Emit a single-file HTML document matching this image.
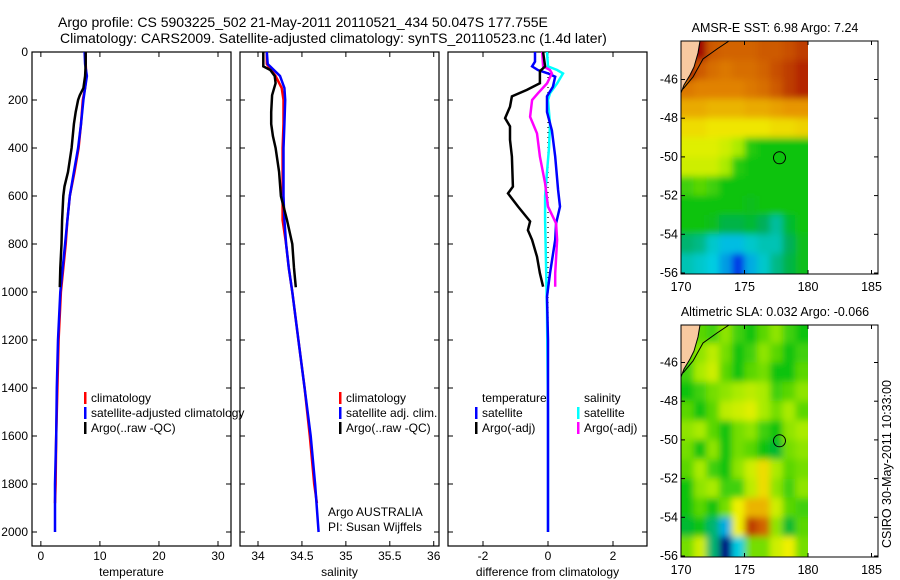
<!DOCTYPE html>
<html><head><meta charset="utf-8">
<style>
html,body{margin:0;padding:0;background:#fff;overflow:hidden;}
svg{display:block;font-family:"Liberation Sans",sans-serif;}
text{fill:#000;}
</style></head>
<body>
<svg id="fig" width="900" height="580" viewBox="0 0 900 580" xmlns="http://www.w3.org/2000/svg">
<defs><filter id="soft" x="-10%" y="-10%" width="120%" height="120%"><feGaussianBlur stdDeviation="3.5"/></filter></defs>
<g id="plots"></g>
<text x="58" y="27" font-size="14">Argo profile: CS 5903225_502 21-May-2011 20110521_434 50.047S 177.755E</text>
<text x="60" y="43" font-size="14">Climatology: CARS2009. Satellite-adjusted climatology: synTS_20110523.nc (1.4d later)</text>
<text x="775" y="32" font-size="12.5" text-anchor="middle">AMSR-E SST: 6.98 Argo: 7.24</text>
<text x="775" y="316" font-size="12.5" text-anchor="middle">Altimetric SLA: 0.032 Argo: -0.066</text>
<text transform="translate(891,548) rotate(-90)" font-size="12.5">CSIRO 30-May-2011 10:33:00</text>
</svg>
<script>
// ---------- profile data ----------
const climDepth = [0,50,100,150,200,300,400,500,600,700,800,900,1000,1200,1400,1600,1800,1880];
const satDepth  = [0,50,100,150,200,300,400,500,600,700,800,900,1000,1200,1400,1600,1800,2000];
const tempClim = [7.6,7.6,7.7,7.5,7.1,6.8,6.4,5.7,4.9,4.5,4.2,3.8,3.4,3.0,2.8,2.6,2.5,2.4];
const tempSat  = [7.4,7.5,7.8,7.5,7.2,6.8,6.3,5.6,4.9,4.5,4.1,3.7,3.3,2.9,2.7,2.6,2.4,2.4];
const argoTDepth = [0,50,100,150,180,200,250,300,400,500,560,600,700,800,900,980];
const tempArgo = [7.6,7.6,7.5,7.2,6.6,6.3,5.9,5.6,5.2,4.6,4.0,3.8,3.6,3.5,3.3,3.2];
const salClim = [34.1,34.1,34.2,34.27,34.29,34.29,34.28,34.28,34.28,34.28,34.32,34.35,34.39,34.46,34.53,34.59,34.64,34.67];
const salSat  = [34.1,34.11,34.25,34.3,34.31,34.3,34.29,34.29,34.29,34.3,34.32,34.35,34.39,34.46,34.53,34.6,34.65,34.69];
const argoSDepth = [0,60,75,100,130,180,250,300,350,400,500,600,700,800,900,980];
const salArgo = [34.06,34.06,34.14,34.19,34.2,34.16,34.15,34.15,34.17,34.2,34.24,34.26,34.33,34.39,34.41,34.43];
const dTArgoDepth = [0,60,80,130,158,185,228,276,310,366,436,561,589,644,706,742,783,853,922,978];
const dTArgo = [-0.15,-0.09,-0.25,-0.25,-0.65,-1.11,-1.17,-1.32,-1.17,-1.17,-1.11,-1.08,-1.23,-0.92,-0.55,-0.62,-0.49,-0.34,-0.25,-0.15];
const dSArgoDepth = [0,60,75,89,131,172,200,270,339,436,547,644,714,783,922,978];
const dSArgo = [-0.18,-0.15,0.06,0.12,-0.03,-0.31,-0.49,-0.55,-0.34,-0.25,-0.09,0,0.25,0.28,0.22,0.22];
const dSSatDepth = [0,60,75,89,131,172,200,300,400,500,600,700,1083,1500,2000];
const dSSat = [-0.03,0,0.28,0.46,0.28,0.06,0,0.06,0.03,-0.03,-0.09,-0.09,-0.03,0,0];
const dTSatDepth = [0,40,60,75,89,103,145,185,250,327,436,575,644,714,783,922,1019,1200,2000];
const dTSat = [-0.4,-0.4,-0.49,-0.31,0,0.22,0.15,-0.03,-0.03,0.12,0.22,0.31,0.37,0.25,0.22,0.06,-0.03,0,0];
const depthTicks = [0,200,400,600,800,1000,1200,1400,1600,1800,2000];
const tempTicks = [0,10,20,30];
const salTicks = [34,34.5,35,35.5,36];
const salTickLabels = ["34","34.5","35","35.5","36"];
const diffTicks = [-2,0,2];
// ---------- map data (1-degree cells, rows = top-edge lat -44..-55, cols lon 170..179) ----------
const mapLons = [170,171,172,173,174,175,176,177,178,179];
const mapLats = [-44,-45,-46,-47,-48,-49,-50,-51,-52,-53,-54,-55];
const sstValues = [
[10,10,9.5,9.4,9.4,9.4,9.5,9.5,9.6,9.7],
[10,9.5,9.3,9.2,9.3,9.3,9.4,9.6,9.7,9.8],
[9.2,9.1,9.1,9.1,9.1,9.2,9.3,9.5,9.7,9.8],
[8.7,8.7,8.6,8.6,8.6,8.7,8.7,8.8,8.9,8.9],
[8.2,8.2,8.1,8.1,8.1,8.1,8.1,8.2,8.2,8.3],
[7.9,7.9,7.9,7.8,7.6,7.1,7,7,7,7],
[7.8,7.8,7.8,7.6,7.1,7,7,7,7,7],
[7.2,7.3,7.2,7,7,7,7,7,7,7],
[7,7,7,7,7,6.9,7,7,7,7],
[7,7,6.9,6.7,6.7,6.8,6.6,6.3,6.8,7],
[6.5,6.4,6.1,5.9,5.9,6.1,6.2,6.2,6.6,6.9],
[6.2,6.1,6,5.7,5.1,5.8,6.1,6.4,6.7,6.9]];
const slaValues = [
[0.05,0.03,0.02,0.05,0.02,0,0.03,0.05,0.02,0.0],
[0.03,0.05,0.07,0.04,0.0,0.02,0.05,0.03,0,0.02],
[0.02,0.06,0.08,0.03,0.0,0.03,0.04,0.0,0.0,0.03],
[0.0,0.02,0.04,0.05,0.06,0.07,0.06,0.02,0.03,0.05],
[0.03,0.0,0.03,0.07,0.08,0.09,0.06,0.04,0.06,0.03],
[0.05,0.06,0.03,0.0,0.04,0.05,0.02,0.0,0.05,0.06],
[0.04,0.0,0.05,0.0,0.04,0.03,0.0,-0.02,0.04,0.05],
[0.03,0.06,0.02,0.0,0.05,0.08,0.12,0.06,0.03,0.04],
[0.0,0.05,0.06,0.02,0.02,0.07,0.12,0.05,0.02,0.05],
[0.0,0.03,0.0,0.04,0.1,0.16,0.16,0.08,0.03,0.02],
[-0.02,0.0,-0.05,-0.12,0.1,0.27,0.24,0.05,-0.02,0.03],
[0.04,0.08,-0.05,-0.3,-0.1,0.04,0.04,0.08,0.1,0.04]];
const lonTicks = [170,175,180,185];
const latTicks = [-46,-48,-50,-52,-54,-56];
const argoPos = [177.755,-50.047];

const NS="http://www.w3.org/2000/svg";
const root=document.getElementById('plots');
function mk(tag,attrs,parent){const e=document.createElementNS(NS,tag);for(const k in attrs)e.setAttribute(k,attrs[k]);(parent||root).appendChild(e);return e;}
const yD=d=>52+d*0.24;

function panel(name,x0,x1,xmin,xmax,ticks,labels,xlabel,showY){
  const g=mk('g',{});
  
  
  const sx=v=>x0+(v-xmin)/(xmax-xmin)*(x1-x0);
  const r=mk('rect',{x:x0,y:52,width:x1-x0,height:494,fill:'none',stroke:'#000','stroke-width':1.2},g);
  
  
  depthTicks.forEach(d=>{
    mk('line',{x1:x0,x2:x0+5,y1:yD(d),y2:yD(d),stroke:'#000'},g);
    mk('line',{x1:x1,x2:x1-5,y1:yD(d),y2:yD(d),stroke:'#000'},g);
    if(showY){const t=mk('text',{x:28,y:yD(d)+4,'font-size':12,'text-anchor':'end'},g);t.textContent=d;
      
      }
  });
  ticks.forEach((v,i)=>{
    mk('line',{x1:sx(v),x2:sx(v),y1:546,y2:541,stroke:'#000'},g);
    mk('line',{x1:sx(v),x2:sx(v),y1:52,y2:57,stroke:'#000'},g);
    const t=mk('text',{x:sx(v),y:560,'font-size':12,'text-anchor':'middle'},g);t.textContent=labels[i];
    
    
  });
  const xl=mk('text',{x:(x0+x1)/2,y:576,'font-size':12,'text-anchor':'middle'},g);xl.textContent=xlabel;
  
  
  return {g,sx};
}
function line(p,depths,vals,color,name,w){
  const pts=depths.map((d,i)=>p.sx(vals[i]).toFixed(1)+','+yD(d).toFixed(1)).join(' ');
  const l=mk('polyline',{points:pts,fill:'none',stroke:color,'stroke-width':w||2.5,'stroke-linejoin':'miter'},p.g);
  
  
}
function legend(p,x,y,color,label,name){
  const m=mk('rect',{x:x,y:y-10,width:2.5,height:12,fill:color},p.g);
  
  
  if(label){const t=mk('text',{x:x+7,y:y,'font-size':12},p.g);t.textContent=label;
  
  }
}
function txt(p,x,y,s,name){const t=mk('text',{x:x,y:y,'font-size':12},p.g);t.textContent=s;
  
  }

const p1=panel('temperature-panel',32,231,-1.5,32.2,tempTicks,tempTicks.map(String),'temperature',true);
line(p1,climDepth,tempClim,'#f00','temp-climatology-line');
line(p1,satDepth,tempSat,'#00f','temp-satellite-line');
line(p1,argoTDepth,tempArgo,'#000','temp-argo-line');
legend(p1,84,402,'#f00','climatology','legend-climatology');
legend(p1,84,417,'#00f','satellite-adjusted climatology','legend-satellite');
legend(p1,84,432,'#000','Argo(..raw -QC)','legend-argo');

const p2=panel('salinity-panel',240,439,33.795,36.06,salTicks,salTickLabels,'salinity',false);
line(p2,climDepth,salClim,'#f00','sal-climatology-line');
line(p2,satDepth,salSat,'#00f','sal-satellite-line');
line(p2,argoSDepth,salArgo,'#000','sal-argo-line');
legend(p2,339,402,'#f00','climatology','legend-climatology');
legend(p2,339,417,'#00f','satellite adj. clim.','legend-satellite');
legend(p2,339,432,'#000','Argo(..raw -QC)','legend-argo');
txt(p2,328,516,'Argo AUSTRALIA','argo-australia-note');
txt(p2,328,531,'PI: Susan Wijffels','pi-note');

const p3=panel('difference-panel',448,647,-3.077,3.046,diffTicks,diffTicks.map(String),'difference from climatology',false);
const z=mk('line',{x1:p3.sx(0),x2:p3.sx(0),y1:52,y2:yD(2000),stroke:'#000','stroke-dasharray':'1,4','stroke-width':1.2},p3.g);


line(p3,dSSatDepth,dSSat,'#0ff','sal-diff-satellite-line');
line(p3,dTSatDepth,dTSat,'#00f','temp-diff-satellite-line');
line(p3,dSArgoDepth,dSArgo,'#f0f','sal-diff-argo-line');
line(p3,dTArgoDepth,dTArgo,'#000','temp-diff-argo-line');
txt(p3,482,402,'temperature','legend-temperature-heading');
txt(p3,584,402,'salinity','legend-salinity-heading');
legend(p3,475,417,'#00f','satellite','legend-temp-satellite');
legend(p3,475,432,'#000','Argo(-adj)','legend-temp-argo');
legend(p3,577,417,'#0ff','satellite','legend-sal-satellite');
legend(p3,577,432,'#f0f','Argo(-adj)','legend-sal-argo');

// ---------- maps ----------
const cmapStops=[[4,[0,0,130]],[5,[0,40,230]],[6,[0,205,225]],[6.6,[0,175,90]],[7,[10,195,10]],[7.6,[170,235,0]],[8,[240,240,0]],[9,[230,140,0]],[9.6,[200,80,0]],[10,[160,0,0]]];
function cmap(v){
  if(v<=cmapStops[0][0])return 'rgb('+cmapStops[0][1]+')';
  for(let i=1;i<cmapStops.length;i++){
    if(v<=cmapStops[i][0]){const a=cmapStops[i-1],b=cmapStops[i],t=(v-a[0])/(b[0]-a[0]);
      return 'rgb('+a[1].map((c,k)=>Math.round(c+(b[1][k]-c)*t)).join(',')+')';}
  }
  return 'rgb('+cmapStops[cmapStops.length-1][1]+')';
}
function map(name,top,bottom,vals,toScale){
  const g=mk('g',{});
  
  
  const L=681,R=878,B=bottom;
  const dx=12.7, dy=19.35;
  const sx=lon=>681+(lon-170)*dx;
  const sy=lat=>(B-1)-(lat+56)*dy;
  const cid='clip-'+name;
  const cp=mk('clipPath',{id:cid},g);mk('rect',{x:L,y:top,width:sx(180)-L,height:B-top},cp);
  const clipG=mk('g',{'clip-path':'url(#'+cid+')'},g);
  const cells=mk('g',{filter:'url(#soft)'},clipG);
  mapLats.forEach((lat,r)=>mapLons.forEach((lon,c)=>{
    const ex=c===0?-8:0, ew=c===mapLons.length-1?8:0, ey=r===0?-8:0, eh=r===mapLats.length-1?8:0;
    const e=mk('rect',{x:sx(lon)+ex,y:sy(lat)+ey,width:dx+0.5-ex+ew,height:dy+0.5-ey+eh,fill:cmap(toScale(vals[r][c]))},cells);
    
    
  }));
  const landPts=`${L},${top} ${L+19},${top} ${L+17},${top+12} ${L+13},${top+26} ${L+9},${top+34} ${L+3},${top+44} ${L},${top+52}`;
  const land=mk('polygon',{points:landPts,fill:'#f8c9a0'},clipG);
  
  
  const coast=mk('polyline',{points:`${L+19},${top} ${L+17},${top+12} ${L+13},${top+26} ${L+9},${top+34} ${L+3},${top+44} ${L},${top+52}`,fill:'none',stroke:'#000','stroke-width':1},clipG);
  
  
  const c2=mk('polyline',{points:`${L+2},${top+48} ${L+12},${top+36} ${L+22},${top+18} ${L+36},${top+8} ${L+48},${top}`,fill:'none',stroke:'#000','stroke-width':1},clipG);
  
  
  const fr=mk('rect',{x:L,y:top,width:R-L,height:B-top,fill:'none',stroke:'#000','stroke-width':1},g);
  
  
  lonTicks.forEach(v=>{
    mk('line',{x1:sx(v),x2:sx(v),y1:B,y2:B-4,stroke:'#000'},g);
    mk('line',{x1:sx(v),x2:sx(v),y1:top,y2:top+4,stroke:'#000'},g);
    const t=mk('text',{x:sx(v),y:B+17,'font-size':12.5,'text-anchor':'middle'},g);t.textContent=v;
    
    
  });
  latTicks.forEach(v=>{
    mk('line',{x1:L,x2:L+4,y1:sy(v),y2:sy(v),stroke:'#000'},g);
    mk('line',{x1:R,x2:R-4,y1:sy(v),y2:sy(v),stroke:'#000'},g);
    const t=mk('text',{x:L-3,y:sy(v)+4,'font-size':12.5,'text-anchor':'end'},g);t.textContent=v;
    
    
  });
  const c=mk('circle',{cx:sx(argoPos[0]),cy:sy(argoPos[1]),r:6,fill:'none',stroke:'#000','stroke-width':1},g);
  
  
}
map('sst-map',41,274,sstValues,v=>v);
map('sla-map',325,557,slaValues,v=>7+v*10);
</script>
</body></html>
